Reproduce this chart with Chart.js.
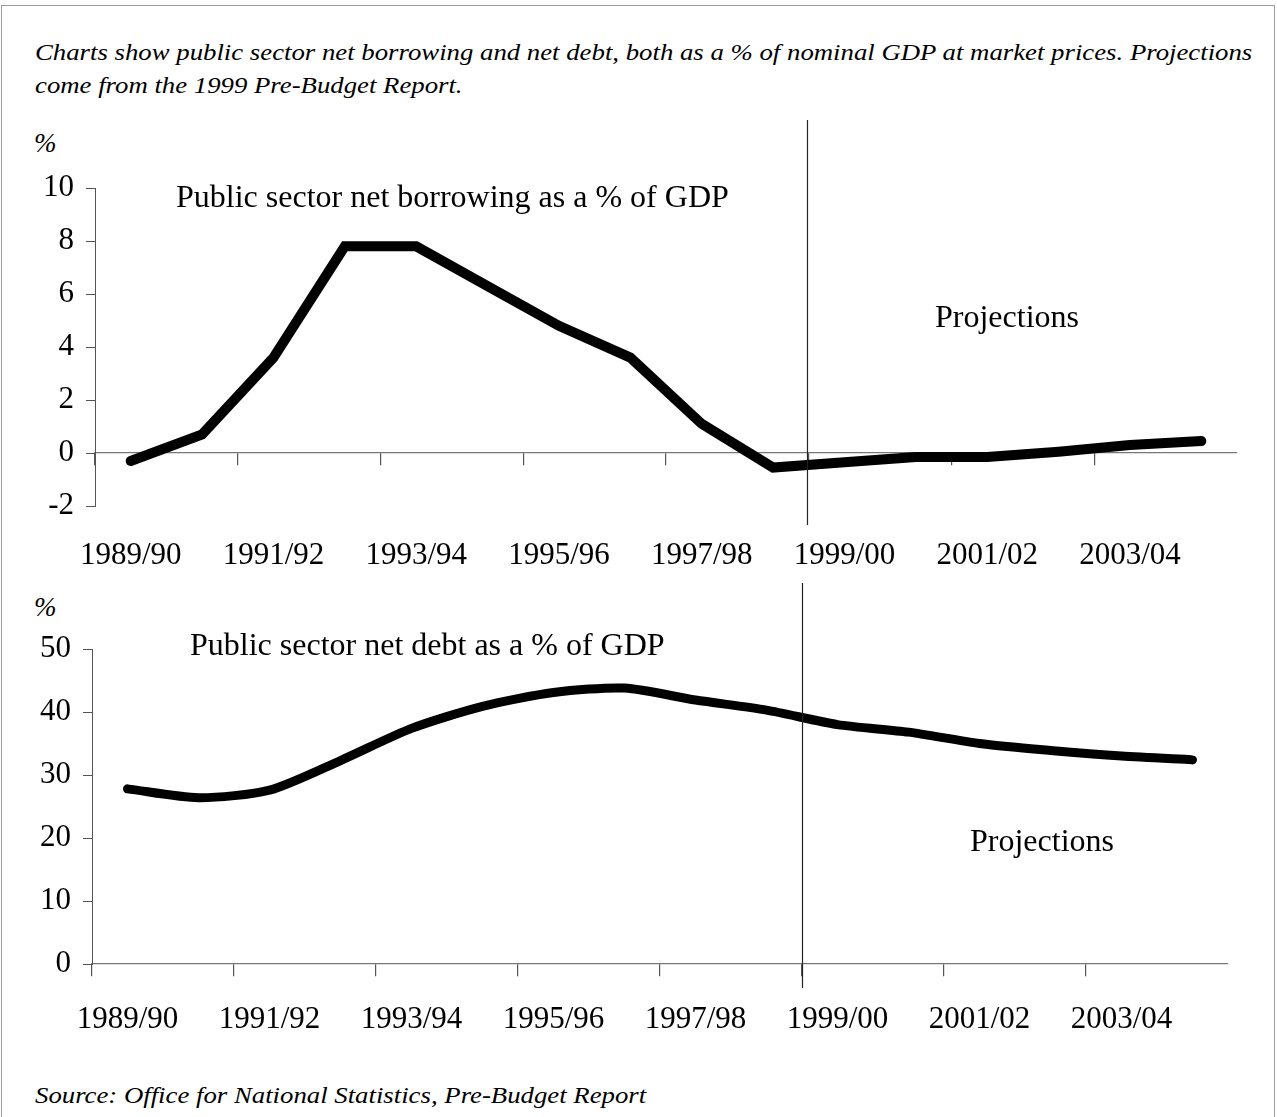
<!DOCTYPE html>
<html>
<head>
<meta charset="utf-8">
<script src="https://cdn.jsdelivr.net/npm/chart.js@4.4.1/dist/chart.umd.min.js"></script>
<style>
  html, body { margin:0; padding:0; background:#fff; }
  #page { position:relative; width:1277px; height:1117px; overflow:hidden; font-family:"Liberation Serif","Times New Roman",serif; color:#000; }
  .frame { position:absolute; left:1px; top:5px; width:1272px; height:1130px; border:1px solid #9a9a9a; }
  .txt { position:absolute; white-space:nowrap; line-height:1; }
  .cap { font-style:italic; font-size:24px; transform:scaleX(1.115); transform-origin:0 0; }
  .big { font-size:32px; }
  canvas { position:absolute; left:0; }
</style>
</head>
<body>
<div id="page">
  <div class="frame"></div>
  <div class="txt cap" style="left:35px; top:40px;">Charts show public sector net borrowing and net debt, both as a % of nominal GDP at market prices. Projections</div>
  <div class="txt cap" style="left:35px; top:73px;">come from the 1999 Pre-Budget Report.</div>
  <div class="txt" style="left:34px; top:130px; font-size:27px; font-style:italic;">%</div>
  <div class="txt" style="left:34px; top:594px; font-size:27px; font-style:italic;">%</div>
  <div style="position:absolute; left:0; top:100px; width:1277px; height:480px;"><canvas id="c1"></canvas></div>
  <div style="position:absolute; left:0; top:580px; width:1277px; height:480px;"><canvas id="c2"></canvas></div>
  <div class="txt big" style="left:176px; top:180px;">Public sector net borrowing as a % of GDP</div>
  <div class="txt big" style="left:935px; top:300px;">Projections</div>
  <div class="txt big" style="left:190px; top:628px;">Public sector net debt as a % of GDP</div>
  <div class="txt big" style="left:970px; top:824px;">Projections</div>
  <div class="txt cap" style="left:35px; top:1083px;">Source: Office for National Statistics, Pre-Budget Report</div>
</div>
<script>
// ---- data ----
const years = ["1989/90","1990/91","1991/92","1992/93","1993/94","1994/95","1995/96","1996/97",
               "1997/98","1998/99","1999/00","2000/01","2001/02","2002/03","2003/04","2004/05"];
const borrowing = [-0.3, 0.7, 3.6, 7.8, 7.8, 6.3, 4.8, 3.6, 1.1, -0.55, -0.35, -0.15, -0.15, 0.05, 0.3, 0.45];
const netDebt   = [27.8, 26.4, 27.6, 32.3, 37.4, 40.9, 43.1, 43.8, 41.9, 40.3, 38.0, 36.8, 35.0, 33.9, 33.0, 32.4];
const borrowTicks = [-2, 0, 2, 4, 6, 8, 10];
const debtTicks   = [0, 10, 20, 30, 40, 50];
const projectionStart = 10; // index of first projected year (1999/00)

const FONT = "'Liberation Serif','Times New Roman',serif";

const projectionLine = {
  id: 'projectionLine',
  afterDatasetsDraw(chart, args, opts) {
    const x = chart.scales.x;
    const px = (x.getPixelForValue(projectionStart - 1) + x.getPixelForValue(projectionStart)) / 2;
    const a = chart.chartArea;
    const ctx = chart.ctx;
    ctx.save();
    ctx.strokeStyle = '#222';
    ctx.lineWidth = 1.2;
    ctx.beginPath();
    ctx.moveTo(Math.round(px) + opts.dx, a.top - opts.above);
    ctx.lineTo(Math.round(px) + opts.dx, a.bottom + opts.below);
    ctx.stroke();
    ctx.restore();
  }
};

function makeChart(id, values, tickVals, cfg) {
  const el = document.getElementById(id);
  return new Chart(el, {
    type: 'line',
    data: {
      labels: years,
      datasets: [{
        data: values,
        borderColor: '#000',
        borderWidth: cfg.lw,
        pointRadius: 0,
        tension: cfg.tension,
        borderCapStyle: 'round',
        borderJoinStyle: 'miter',
        fill: false,
        clip: false
      }]
    },
    options: {
      responsive: true,
      maintainAspectRatio: false,
      animation: false,
      events: [],
      layout: { padding: { left: 0, right: cfg.right, top: cfg.top, bottom: 0 } },
      plugins: {
        legend: { display: false },
        tooltip: { enabled: false },
        projectionLine: { above: cfg.above, below: cfg.below, dx: cfg.dx }
      },
      scales: {
        x: {
          type: 'category',
          offset: true,
          position: 'bottom',
          grid: { display: false },
          border: { display: false },
          ticks: {
            autoSkip: false,
            maxRotation: 0,
            padding: cfg.labelPad,
            color: '#000',
            font: { family: FONT, size: 31 },
            callback: (v, i) => (i % 2 === 0 ? years[i] : '')
          },
          afterFit: s => { s.height = cfg.xh; }
        },
        x0: {
          type: 'category',
          offset: true,
          position: { y: 0 },
          grid: {
            offset: true,
            drawOnChartArea: false,
            drawTicks: true,
            tickLength: 12,
            lineWidth: 1.2,
            color: c => (c.index % 2 === 0 ? '#555' : 'rgba(0,0,0,0)')
          },
          border: { display: true, color: '#777', width: 1.2 },
          ticks: { display: false, autoSkip: false }
        },
        y: {
          min: tickVals[0],
          max: tickVals[tickVals.length - 1],
          afterBuildTicks: s => { s.ticks = tickVals.map(v => ({ value: v })); },
          grid: { drawOnChartArea: false, drawTicks: true, tickLength: 9, color: '#555', lineWidth: 1 },
          border: { display: true, color: '#555', width: 1 },
          ticks: {
            padding: 12,
            color: '#000',
            font: { family: FONT, size: 31 }
          },
          afterFit: s => { s.width = cfg.yw; }
        }
      }
    },
    plugins: [projectionLine]
  });
}

makeChart('c1', borrowing, borrowTicks,
  { lw: 10, tension: 0, right: 40, top: 88, xh: 74, labelPad: 23, yw: 95, above: 68, below: 19, dx: -1.5 });
makeChart('c2', netDebt, debtTicks,
  { lw: 9, tension: 0.25, right: 49, top: 69, xh: 96, labelPad: 29, yw: 92, above: 66, below: 24, dx: 0.5 });
</script>
</body>
</html>
